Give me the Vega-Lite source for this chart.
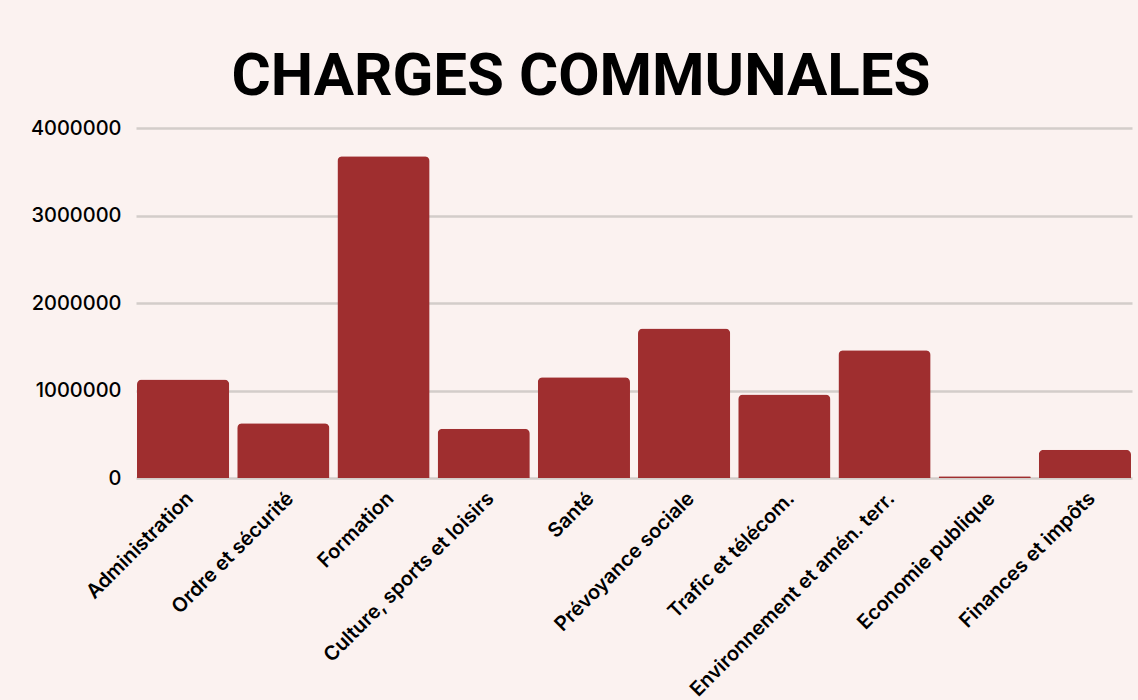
{
  "$schema": "https://vega.github.io/schema/vega-lite/v6.json",
  "autosize": {"type": "none"},
  "padding": {"left": 136, "top": 128, "right": 6, "bottom": 222},
  "width": 996,
  "height": 350,
  "background": "#FBF2F0",
  "title": {
    "text": "CHARGES COMMUNALES",
    "font": "Roboto",
    "fontSize": 60,
    "fontWeight": 700,
    "color": "#000000",
    "anchor": "middle",
    "frame": "group",
    "baseline": "alphabetic",
    "offset": 33,
    "dx": -53,
    "dy": 70
  },
  "data": {
    "values": [
      {"categorie": "Administration", "montant": 1125000},
      {"categorie": "Ordre et sécurité", "montant": 626000},
      {"categorie": "Formation", "montant": 3678000},
      {"categorie": "Culture, sports et loisirs", "montant": 562000},
      {"categorie": "Santé", "montant": 1152000},
      {"categorie": "Prévoyance sociale", "montant": 1709000},
      {"categorie": "Trafic et télécom.", "montant": 954000},
      {"categorie": "Environnement et amén. terr.", "montant": 1461000},
      {"categorie": "Economie publique", "montant": 20000},
      {"categorie": "Finances et impôts", "montant": 322000}
    ]
  },
  "mark": {
    "type": "bar",
    "color": "#9F2E2F",
    "cornerRadiusTopLeft": 5,
    "cornerRadiusTopRight": 5
  },
  "encoding": {
    "x": {
      "field": "categorie",
      "type": "nominal",
      "sort": null,
      "title": null,
      "scale": {"paddingInner": 0.08, "paddingOuter": 0.01},
      "axis": {
        "labelAngle": -45,
        "labelFont": "Inter",
        "labelFontSize": 20,
        "labelFontWeight": 600,
        "labelColor": "#000000",
        "labelPadding": 10,
        "ticks": false,
        "domain": false,
        "labelLimit": 400
      }
    },
    "y": {
      "field": "montant",
      "type": "quantitative",
      "title": null,
      "scale": {"domain": [0, 4000000], "nice": false},
      "axis": {
        "values": [0, 1000000, 2000000, 3000000, 4000000],
        "format": "d",
        "labelFont": "Inter",
        "labelFontSize": 20,
        "labelFontWeight": 500,
        "labelColor": "#000000",
        "labelPadding": 15,
        "ticks": false,
        "domain": false,
        "grid": true,
        "gridColor": "#D3CDCA",
        "gridWidth": 2.5
      }
    }
  },
  "config": {
    "view": {"stroke": null}
  }
}
